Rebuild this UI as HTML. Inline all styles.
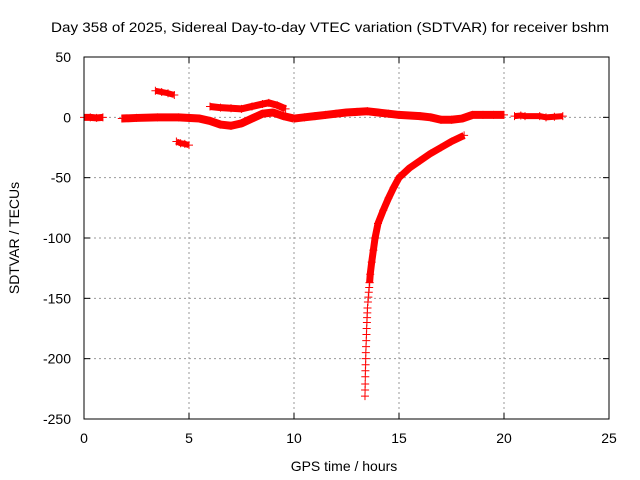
<!DOCTYPE html>
<html><head><meta charset="utf-8"><style>
body{margin:0;background:#fff}
svg{display:block;font-family:"Liberation Sans",sans-serif}
</style></head><body>
<svg id="chart" width="640" height="480" viewBox="0 0 640 480">
<text x="330" y="32" font-size="14" text-anchor="middle" textLength="558" lengthAdjust="spacingAndGlyphs">Day 358 of 2025, Sidereal Day-to-day VTEC variation (SDTVAR) for receiver bshm</text>
<text x="344" y="471" font-size="14" text-anchor="middle">GPS time / hours</text>
<text transform="translate(19,238) rotate(-90)" font-size="14" text-anchor="middle">SDTVAR / TECUs</text>
<g id="grid"></g><g id="ticks"></g><g id="marks"></g>
<rect x="84" y="57" width="525" height="362" fill="none" stroke="#000" stroke-width="1"/>
</svg>
<script>
const xTicks=[0,5,10,15,20,25];
const yTicks=[50,0,-50,-100,-150,-200,-250];
const segA_t=[0,0.3,0.6,0.9];const segA_v=[0,0,-0.5,0];
const segC_t=[3.4,3.7,4.0,4.3];const segC_v=[22,21,20,18.5];
const segD_t=[4.4,4.6,4.8,5.0];const segD_v=[-20,-21.5,-22,-23];
const lower_t=[1.8,2.5,3.5,4.5,5.5,6.0,6.5,7.0,7.5,8.0,8.5,9.0,9.5,10];
const lower_v=[-1,-0.5,0,0,-1,-3,-6,-7,-5,-1,3,4,1,-1];
const upper_t=[6.0,6.5,7.0,7.5,8.0,8.5,8.8,9.2,9.6];
const upper_v=[9,8,7.5,7,9,11,12,10,7];
const main_t=[10,10.5,11,11.5,12,12.5,13,13.5,14,14.5,15,15.5,16,16.5,17,17.5,18,18.5,19,19.5,20];
const main_v=[-1,0,1,2,3,4,4.5,5,4,3,2,1.5,1,0,-2,-2,-1,2,2,2,2];
const tail_t=[20.5,20.8,21.0,21.7,22.0,22.4,22.8];
const tail_v=[1,1.5,1,1,0,0.5,1];
const curveLow_t=[13.38,13.385,13.39,13.395,13.40,13.41,13.415,13.42,13.43,13.44,13.45,13.46,13.47,13.48,13.49,13.50,13.52,13.54,13.56,13.58,13.60];
const curveLow_v=[-231,-226,-221,-215,-210,-205,-200,-195,-190,-185,-180,-175,-170,-166,-162,-158,-153,-149,-145,-141,-137];
const curve_t=[13.6,13.63,13.7,13.78,13.86,14.0,14.25,14.5,14.75,15.0,15.5,16.0,16.5,17.0,17.5,18.1];
const curve_v=[-137,-130,-120,-110,-100,-88,-77,-67,-58,-50,-42,-36,-30,-25,-20,-15];
const X=t=>84+t*21, Y=v=>57+(50-v)*362/300;
const NS="http://www.w3.org/2000/svg";
const grid=document.getElementById('grid'),ticks=document.getElementById('ticks'),marks=document.getElementById('marks');
function mk(tag,attrs,parent){const e=document.createElementNS(NS,tag);for(const k in attrs)e.setAttribute(k,attrs[k]);parent.appendChild(e);return e;}
xTicks.forEach(t=>{
 if(t>0&&t<25){const g=mk('line',{x1:X(t),x2:X(t),y1:57,y2:419,stroke:'#999','stroke-dasharray':'2,3'},grid);
 
 }
 mk('line',{x1:X(t),x2:X(t),y1:419,y2:413,stroke:'#000'},ticks);
 mk('line',{x1:X(t),x2:X(t),y1:57,y2:63,stroke:'#000'},ticks);
 const l=mk('text',{x:X(t),y:443,'font-size':14,'text-anchor':'middle'},ticks);l.textContent=t;
 
 
});
yTicks.forEach(v=>{
 if(v<50&&v>-250){const g=mk('line',{x1:84,x2:609,y1:Y(v),y2:Y(v),stroke:'#999','stroke-dasharray':'2,3'},grid);
 
 }
 mk('line',{x1:84,x2:90,y1:Y(v),y2:Y(v),stroke:'#000'},ticks);
 mk('line',{x1:609,x2:603,y1:Y(v),y2:Y(v),stroke:'#000'},ticks);
 const l=mk('text',{x:71,y:Y(v)+5,'font-size':14,'text-anchor':'end'},ticks);l.textContent=v;
 
 
});
function series(name,ts,vs,w){
 const g=mk('g',{},marks);
 
 
 const pts=ts.map((t,i)=>X(t)+','+Y(vs[i])).join(' ');
 if(w>0)mk('polyline',{points:pts,fill:'none',stroke:'#f00','stroke-width':w,'stroke-linejoin':'round'},g);
 ts.forEach((t,i)=>{const x=X(t),y=Y(vs[i]);
  mk('path',{d:`M${x-4} ${y}h8M${x} ${y-4}v8`,stroke:'#f00','stroke-width':1},g);});
}
series('series-a',segA_t,segA_v,7);
series('series-c',segC_t,segC_v,6);
series('series-d',segD_t,segD_v,6);
series('series-lower',lower_t,lower_v,8);
series('series-upper',upper_t,upper_v,7);
series('series-main',main_t,main_v,8);
series('series-tail',tail_t,tail_v,6);
series('series-curve-low',curveLow_t,curveLow_v,0);
series('series-curve',curve_t,curve_v,7);
</script>
</body></html>
